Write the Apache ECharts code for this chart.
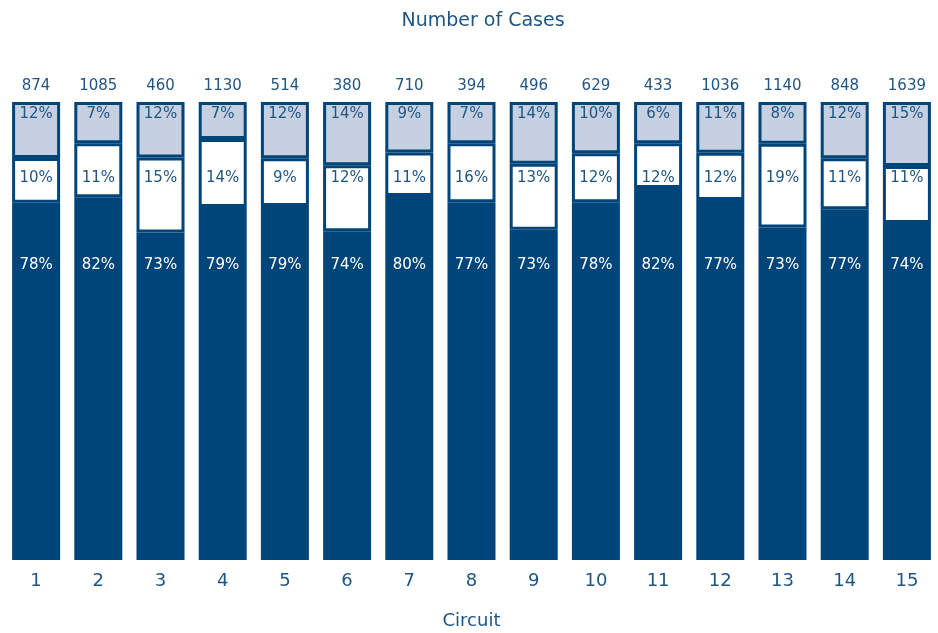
<!DOCTYPE html>
<html>
<head>
<meta charset="utf-8">
<script src="https://cdn.jsdelivr.net/npm/echarts@6/dist/echarts.min.js"></script>
<style>html,body{margin:0;padding:0;background:#fff}#c{width:938px;height:633px}</style>
</head>
<body>
<div id="c"></div>
<script>
const circuits = ['1','2','3','4','5','6','7','8','9','10','11','12','13','14','15'];
const totals = [874,1085,460,1130,514,380,710,394,496,629,433,1036,1140,848,1639];
// printed percentage labels
const bottomPctLabel = [78,82,73,79,79,74,80,77,73,78,82,77,73,77,74];
const middlePctLabel = [10,11,15,14,9,12,11,16,13,12,12,12,19,11,11];
const topPctLabel = [12,7,12,7,12,14,9,7,14,10,6,11,8,12,15];
// segment shares as drawn in the picture (bar heights, % of bar)
const bottomShare = [78.0,79.2,71.5,77.1,77.3,71.8,79.5,78.1,72.1,78.1,81.2,78.6,72.6,76.6,73.6];
const middleShare = [9.8,11.8,16.4,14.8,10.4,14.4,9.5,12.9,14.4,10.7,9.8,10.3,18.3,11.1,12.4];
const topShare = [12.2,9.0,12.1,8.1,12.3,13.8,11.0,9.0,13.5,11.2,9.0,11.1,9.1,12.3,14.0];

const NAVY = '#00457a';
const TEXT = '#1f5584';
const LIGHT = '#c6d0e1';
const FONT = '"DejaVu Sans", sans-serif';

const chart = echarts.init(document.getElementById('c'));
chart.setOption({
  animation: false,
  title: {
    text: 'Number of Cases', left: 478, top: 7, textAlign: 'center',
    textStyle: { color: TEXT, fontSize: 19, fontWeight: 'normal', fontFamily: FONT }
  },
  grid: { left: 5, right: 0, top: 102, bottom: 73, outerBoundsMode: 'none', containLabel: false },
  xAxis: {
    type: 'category', data: circuits,
    name: 'Circuit', nameLocation: 'middle', nameGap: 52,
    nameTextStyle: { color: TEXT, fontSize: 18, fontFamily: FONT },
    axisLine: { show: false }, axisTick: { show: false },
    axisLabel: { color: TEXT, fontSize: 18, margin: 12, fontFamily: FONT }
  },
  yAxis: { type: 'value', min: 0, max: 100, show: false },
  series: [
    {
      name: 'bottom', type: 'bar', stack: 's', barWidth: 48,
      data: bottomShare,
      itemStyle: { color: NAVY },
      label: { show: false }
    },
    {
      name: 'middle', type: 'bar', stack: 's', barWidth: 48,
      data: middleShare,
      itemStyle: { color: '#ffffff', borderColor: NAVY, borderWidth: 3 },
      label: { show: false }
    },
    {
      name: 'top', type: 'bar', stack: 's', barWidth: 48,
      data: topShare,
      itemStyle: { color: LIGHT, borderColor: NAVY, borderWidth: 3 },
      label: {
        show: true, position: 'insideTop', distance: 0, offset: [0, -32],
        fontFamily: FONT,
        formatter: function (p) {
          const i = p.dataIndex;
          return '{t|' + totals[i] + '}\n{a|' + topPctLabel[i] + '%}\n{b|' + middlePctLabel[i] + '%}\n{c|' + bottomPctLabel[i] + '%}';
        },
        rich: {
          t: { color: TEXT, fontSize: 15, lineHeight: 32, fontFamily: FONT },
          a: { color: TEXT, fontSize: 15, lineHeight: 24, fontFamily: FONT },
          b: { color: TEXT, fontSize: 15, lineHeight: 104, fontFamily: FONT },
          c: { color: '#ffffff', fontSize: 15, lineHeight: 70, fontFamily: FONT }
        }
      }
    }
  ]
});
</script>
</body>
</html>
